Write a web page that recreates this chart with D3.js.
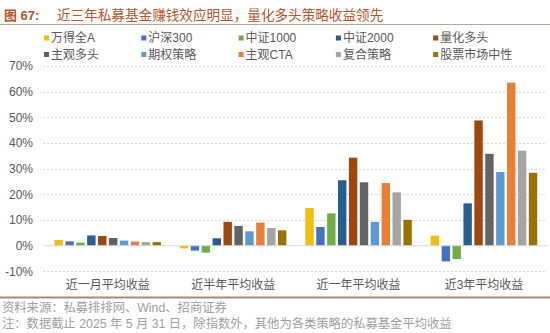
<!DOCTYPE html>
<html><head><meta charset="utf-8">
<script src="https://cdn.jsdelivr.net/npm/d3@7"></script>
<style>
html,body{margin:0;padding:0;background:#fff;}
svg{display:block;font-family:"Liberation Sans","Noto Sans CJK SC",sans-serif;}
</style></head>
<body>
<svg id="chart" width="550" height="333"></svg>
<script>
const categories = ["近一月平均收益","近半年平均收益","近一年平均收益","近3年平均收益"];
const seriesNames = ["万得全A","沪深300","中证1000","中证2000","量化多头","主观多头","期权策略","主观CTA","复合策略","股票市场中性"];
const seriesColors = ["#F2BE0A","#4472C4","#70AD47","#255E91","#9E480E","#636363","#5B9BD5","#ED7D31","#A5A5A5","#997300"];
const 万得全A = [2.2,-1.0,14.7,3.9];
const 沪深300 = [1.7,-1.9,7.3,-6.1];
const 中证1000 = [1.2,-2.7,12.6,-5.2];
const 中证2000 = [4.0,2.9,25.5,16.5];
const 量化多头 = [3.8,9.3,34.3,48.8];
const 主观多头 = [3.0,7.7,24.7,35.8];
const 期权策略 = [2.0,5.6,9.3,28.7];
const 主观CTA = [1.6,9.0,24.4,63.5];
const 复合策略 = [1.4,6.9,20.8,37.0];
const 股票市场中性 = [1.4,6.0,10.1,28.4];
const seriesValues = [万得全A,沪深300,中证1000,中证2000,量化多头,主观多头,期权策略,主观CTA,复合策略,股票市场中性];
const yTicks = [-10,0,10,20,30,40,50,60,70];

const svg = d3.select("#chart");
const title = "近三年私募基金赚钱效应明显，量化多头策略收益领先";

// Title
svg.append("text").attr("x",4).attr("y",19.5).attr("fill","#B4552B")
  .attr("font-size",13).attr("font-weight","bold").text("图 67:");
svg.append("text").attr("x",57).attr("y",19.5).attr("fill","#B4552B")
  .attr("font-size",13.6).text(title);
svg.append("line").attr("x1",0).attr("x2",550).attr("y1",24.5).attr("y2",24.5)
  .attr("stroke","#B8A89C").attr("stroke-width",1);

// Scales
const y = d3.scaleLinear().domain([-10,70]).range([271.4,66]);
const x0 = d3.scaleBand().domain(categories).range([45,546.7]);
const x1 = d3.scaleBand().domain(seriesNames).range([0,x0.bandwidth()]).paddingInner(0.23).paddingOuter(0.87);

// Grid
const gridG = svg.append("g");
gridG.selectAll("line").data(yTicks.filter(d=>d!==0)).join("line")
  .attr("x1",43).attr("x2",547).attr("y1",d=>Math.round(y(d))+0.5).attr("y2",d=>Math.round(y(d))+0.5)
  .attr("stroke","#D9D9D9").attr("stroke-width",1).attr("stroke-dasharray","2,2");

// Y axis labels
const yAxis = d3.axisLeft(y).tickValues(yTicks).tickFormat(d=>d+"%").tickSize(0).tickPadding(0);
const yg = svg.append("g").attr("transform","translate(33,0)").call(yAxis);
yg.select(".domain").remove();
yg.selectAll("text").attr("font-size",12).attr("fill","#595959")
  .attr("font-family","'Liberation Sans','Noto Sans CJK SC',sans-serif");

// Bars
const barsG = svg.append("g");
seriesNames.forEach((s,i)=>{
  barsG.selectAll(null).data(seriesValues[i].map((v,j)=>({cat:categories[j],v}))).join("rect")
    .attr("x",d=>x0(d.cat)+x1(s))
    .attr("width",x1.bandwidth())
    .attr("y",d=>y(Math.max(0,d.v)))
    .attr("height",d=>Math.abs(y(d.v)-y(0)))
    .attr("fill",seriesColors[i]);
});

// Zero line
svg.append("line").attr("x1",43).attr("x2",547).attr("y1",y(0)).attr("y2",y(0))
  .attr("stroke","#D9D9D9").attr("stroke-width",1);

// X axis labels
const xAxis = d3.axisBottom(x0).tickSize(0).tickPadding(0);
const xg = svg.append("g").attr("transform","translate(0,280)").call(xAxis);
xg.select(".domain").remove();
xg.selectAll("text").attr("font-size",12).attr("fill","#595959")
  .attr("font-family","'Liberation Sans','Noto Sans CJK SC',sans-serif");

// Legend
const legendG = svg.append("g");
seriesNames.forEach((s,i)=>{
  const col = i%5, row = Math.floor(i/5);
  const lx = 44 + col*97.3, ly = 38 + row*16.5;
  const g = legendG.append("g").attr("transform",`translate(${lx},${ly})`);
  g.append("rect").attr("x",0).attr("y",-2.5).attr("width",5).attr("height",5).attr("fill",seriesColors[i]);
  g.append("text").attr("x",7).attr("y",0).attr("dy","0.35em").attr("font-size",12).attr("fill","#595959").text(s);
});

// Bottom rule and footer
svg.append("line").attr("x1",0).attr("x2",550).attr("y1",297.5).attr("y2",297.5)
  .attr("stroke","#A68B76").attr("stroke-width",2);
svg.append("text").attr("x",2).attr("y",311.5).attr("font-size",12.3).attr("fill","#A0A0A0")
  .text("资料来源：私募排排网、Wind、招商证券");
svg.append("text").attr("x",2).attr("y",327.5).attr("font-size",12.3).attr("fill","#A0A0A0")
  .text("注：数据截止 2025 年 5 月 31 日，除指数外，其他为各类策略的私募基金平均收益");
</script>
</body></html>
